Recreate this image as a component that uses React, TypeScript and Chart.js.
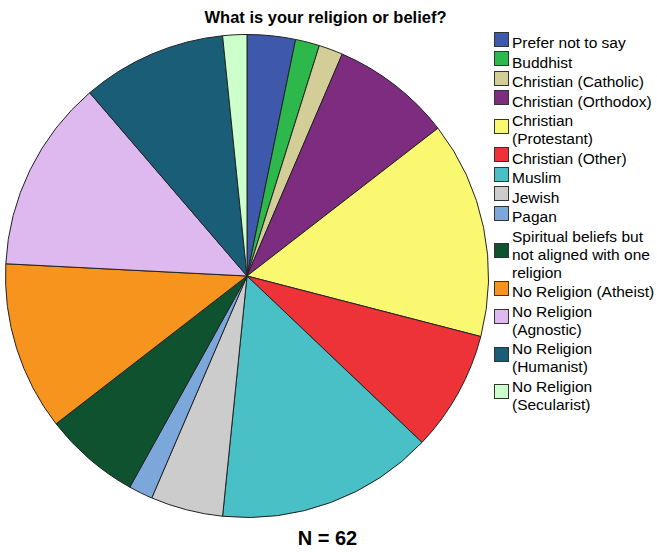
import React, { useEffect, useRef } from "react";
import { Chart, registerables } from "chart.js";

Chart.register(...registerables);

const categories: string[][] = [
  ["Prefer not to say"],
  ["Buddhist"],
  ["Christian (Catholic)"],
  ["Christian (Orthodox)"],
  ["Christian", "(Protestant)"],
  ["Christian (Other)"],
  ["Muslim"],
  ["Jewish"],
  ["Pagan"],
  ["Spiritual beliefs but", "not aligned with one", "religion"],
  ["No Religion (Atheist)"],
  ["No Religion", "(Agnostic)"],
  ["No Religion", "(Humanist)"],
  ["No Religion", "(Secularist)"],
];

const counts: number[] = [2, 1, 1, 5, 9, 5, 9, 3, 1, 4, 7, 8, 6, 1];

const colors: string[] = [
  "#3E58AC",
  "#2DB84B",
  "#D3CE98",
  "#7D2C80",
  "#FAF870",
  "#EE3338",
  "#48C0C5",
  "#CCCCCC",
  "#7BA7DA",
  "#0F5230",
  "#F7941D",
  "#DEB9F0",
  "#1A5D76",
  "#CCFFCC",
];

const titleText = "What is your religion or belief?";
const footText = "N = 62";

export default function App() {
  const ref = useRef<HTMLCanvasElement | null>(null);

  useEffect(() => {
    if (!ref.current) return;
    const chart = new Chart(ref.current, {
      type: "pie",
      data: {
        labels: categories.map((c) => c.join(" ")),
        datasets: [
          {
            data: counts,
            backgroundColor: colors,
            borderColor: "#222222",
            borderWidth: 1,
          },
        ],
      },
      options: {
        animation: false,
        responsive: false,
        maintainAspectRatio: false,
        layout: { padding: 0 },
        plugins: {
          legend: { display: false },
          tooltip: { enabled: false },
          title: { display: false },
        },
      },
    });
    return () => chart.destroy();
  }, []);

  const font = '"Liberation Sans", Arial, sans-serif';

  return (
    <div
      style={{
        position: "fixed",
        left: 0,
        top: 0,
        width: 657,
        height: 552,
        background: "#ffffff",
        fontFamily: font,
        color: "#000",
      }}
    >
      <div
        style={{
          position: "absolute",
          left: 0,
          width: 651,
          top: 8,
          textAlign: "center",
          fontWeight: "bold",
          fontSize: 16.5,
          lineHeight: "19px",
          whiteSpace: "nowrap",
        }}
      >
        {titleText}
      </div>
      <canvas
        ref={ref}
        width={484}
        height={484}
        style={{ position: "absolute", left: 5, top: 34, width: 484, height: 484 }}
      />
      <div
        style={{
          position: "absolute",
          left: 0,
          width: 655,
          top: 527,
          textAlign: "center",
          fontWeight: "bold",
          fontSize: 20,
          lineHeight: "23px",
          whiteSpace: "nowrap",
        }}
      >
        {footText}
      </div>
      <div style={{ position: "absolute", left: 494, top: 34 }}>
        {categories.map((lines, i) => (
          <div
            key={i}
            style={{ display: "flex", alignItems: "center", marginBottom: 1.5 }}
          >
            <div
              style={{
                width: 15,
                height: 15,
                boxSizing: "border-box",
                border: "1px solid #333",
                background: colors[i],
                marginRight: 3,
                flex: "0 0 auto",
                transform: "translateY(-4px)",
              }}
            />
            <div style={{ fontSize: 15.5, lineHeight: "18px", whiteSpace: "nowrap" }}>
              {lines.map((l, j) => (
                <div key={j}>{l}</div>
              ))}
            </div>
          </div>
        ))}
      </div>
    </div>
  );
}
